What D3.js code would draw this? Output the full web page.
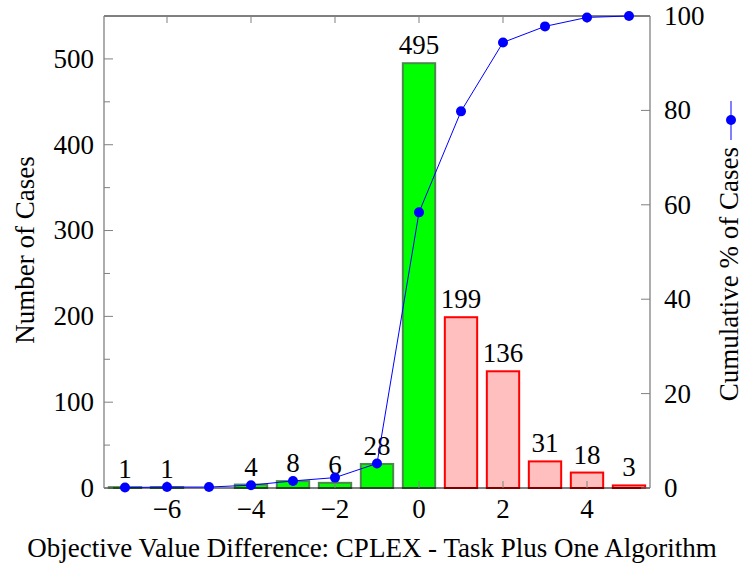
<!DOCTYPE html>
<html lang="en">
<head>
    <meta charset="UTF-8">
    <title>Objective Value Difference Histogram</title>
    <script src="https://d3js.org/d3.v7.min.js"></script>
    <style>
        body { margin: 0; background: #fff; }
    </style>
</head>
<body>
    <div id="chart"></div>

    <script>
        // values
        const diffs = [-7, -6, -5, -4, -3, -2, -1, 0, 1, 2, 3, 4, 5];
        const counts = [1, 1, 0, 4, 8, 6, 28, 495, 199, 136, 31, 18, 3];
        const cumulative = [0.1, 0.2, 0.2, 0.6, 1.5, 2.2, 5.2, 58.4, 79.8, 94.4, 97.8, 99.7, 100];
        const xTicks = [-6, -4, -2, 0, 2, 4];
        const yTicks = [0, 100, 200, 300, 400, 500];
        const yMinorTicks = [50, 150, 250, 350, 450];
        const y2Ticks = [0, 20, 40, 60, 80, 100];

        const W = 743, H = 564;
        const margin = { top: 16, right: 93, bottom: 76, left: 104 };
        const fs = 27;
        const font = "Liberation Serif";

        const svg = d3.select("#chart").append("svg")
            .attr("width", W)
            .attr("height", H);

        function label(sel) {
            return sel.attr("font-family", font).attr("font-size", fs).attr("fill", "#000");
        }

        const x = d3.scaleLinear().domain([-7.5, 5.5]).range([margin.left, W - margin.right]);
        const y = d3.scaleLinear().domain([0, 550]).range([H - margin.bottom, margin.top]);
        const y2 = d3.scaleLinear().domain([0, 100]).range([H - margin.bottom, margin.top]);
        const barW = (x(1) - x(0)) * 0.77;

        const data = diffs.map((d, i) => ({ d: d, n: counts[i], c: cumulative[i] }));

        // bars
        svg.selectAll(".bar")
            .data(data)
            .enter().append("rect")
            .attr("class", "bar")
            .attr("x", d => x(d.d) - barW / 2)
            .attr("y", d => y(d.n))
            .attr("width", barW)
            .attr("height", d => y(0) - y(d.n))
            .attr("fill", d => d.d <= 0 ? "#00ff00" : "#ffbfbf")
            .attr("stroke", d => d.d <= 0 ? "#4a8a4a" : "#ff0000")
            .attr("stroke-width", 2);

        // bar labels
        svg.selectAll(".bar-label")
            .data(data.filter(d => d.n > 0))
            .enter().append("text")
            .attr("class", "bar-label")
            .attr("x", d => x(d.d))
            .attr("y", d => y(d.n) - 9)
            .attr("text-anchor", "middle")
            .call(label)
            .text(d => d.n);

        // axes: frame
        const gray = "#808080";
        svg.append("line").attr("x1", x.range()[0]).attr("x2", x.range()[1])
            .attr("y1", margin.top).attr("y2", margin.top).attr("stroke", "#000");
        svg.append("line").attr("x1", x.range()[0]).attr("x2", x.range()[1])
            .attr("y1", y(0)).attr("y2", y(0)).attr("stroke", "#000");
        svg.append("line").attr("x1", x.range()[0]).attr("x2", x.range()[0])
            .attr("y1", margin.top).attr("y2", y(0)).attr("stroke", gray).attr("stroke-width", 1.3);
        svg.append("line").attr("x1", x.range()[1]).attr("x2", x.range()[1])
            .attr("y1", margin.top).attr("y2", y(0)).attr("stroke", gray).attr("stroke-width", 1.3);

        // x ticks (inward on bottom and top)
        xTicks.forEach(t => {
            svg.append("line").attr("x1", x(t)).attr("x2", x(t))
                .attr("y1", y(0)).attr("y2", y(0) - 7).attr("stroke", gray);
            svg.append("line").attr("x1", x(t)).attr("x2", x(t))
                .attr("y1", margin.top).attr("y2", margin.top + 7).attr("stroke", gray);
            svg.append("text")
                .attr("x", x(t))
                .attr("y", 518)
                .attr("text-anchor", "middle")
                .call(label)
                .text(t < 0 ? "\u2212" + Math.abs(t) : t);
        });

        // left y ticks
        yTicks.forEach(t => {
            svg.append("line").attr("x1", x.range()[0]).attr("x2", x.range()[0] + 9)
                .attr("y1", y(t)).attr("y2", y(t)).attr("stroke", gray);
            svg.append("text")
                .attr("x", 94)
                .attr("y", y(t))
                .attr("dy", "0.33em")
                .attr("text-anchor", "end")
                .call(label)
                .text(t);
        });
        yMinorTicks.forEach(t => {
            svg.append("line").attr("x1", x.range()[0]).attr("x2", x.range()[0] + 6)
                .attr("y1", y(t)).attr("y2", y(t)).attr("stroke", gray);
        });

        // right y ticks
        y2Ticks.forEach(t => {
            svg.append("line").attr("x1", x.range()[1]).attr("x2", x.range()[1] - 9)
                .attr("y1", y2(t)).attr("y2", y2(t)).attr("stroke", gray);
            svg.append("text")
                .attr("x", 664)
                .attr("y", y2(t))
                .attr("dy", "0.33em")
                .attr("text-anchor", "start")
                .call(label)
                .text(t);
        });

        // cumulative line
        const line = d3.line().x(d => x(d.d)).y(d => y2(d.c));
        svg.append("path")
            .datum(data)
            .attr("d", line)
            .attr("fill", "none")
            .attr("stroke", "#0000ff")
            .attr("stroke-width", 1);
        svg.selectAll(".dot")
            .data(data)
            .enter().append("circle")
            .attr("class", "dot")
            .attr("cx", d => x(d.d))
            .attr("cy", d => y2(d.c))
            .attr("r", 5)
            .attr("fill", "#0000ff");

        // axis labels
        svg.append("text")
            .attr("x", 372)
            .attr("y", 557)
            .attr("text-anchor", "middle")
            .call(label)
            .text("Objective Value Difference: CPLEX - Task Plus One Algorithm");

        svg.append("text")
            .attr("transform", "translate(34,250) rotate(-90)")
            .attr("text-anchor", "middle")
            .call(label)
            .text("Number of Cases");

        // right label with legend entry
        svg.append("text")
            .attr("transform", "translate(738,147) rotate(-90)")
            .attr("text-anchor", "end")
            .call(label)
            .text("Cumulative % of Cases");
        svg.append("line").attr("x1", 731).attr("x2", 731)
            .attr("y1", 101).attr("y2", 140)
            .attr("stroke", "#0000ff").attr("stroke-width", 1);
        svg.append("circle").attr("cx", 731).attr("cy", 120).attr("r", 5).attr("fill", "#0000ff");
    </script>
</body>
</html>
